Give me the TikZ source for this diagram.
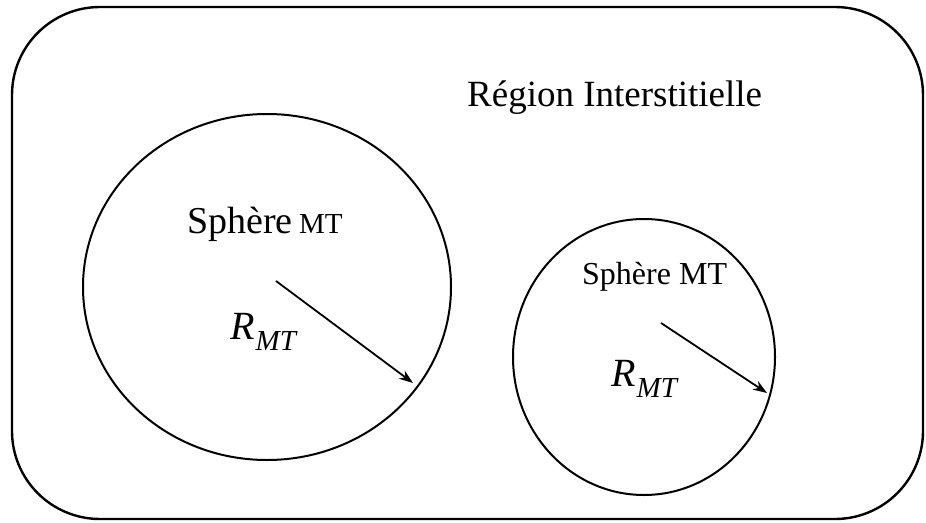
\documentclass[tikz,border=0pt]{standalone}
\usepackage{fontspec}
\setmainfont{Liberation Serif}
\usetikzlibrary{arrows.meta}
\tikzset{
  frame/.style={line width=2.4pt, rounded corners=88pt},
  sphere/.style={line width=2pt},
  radius arrow/.style={line width=1.8pt, -{Stealth[length=14pt,width=10pt]}},
  lbl/.style={inner sep=0pt, anchor=base west},
  radiuslbl/.style={lbl, font=\fontsize{40}{44}\selectfont\itshape}
}
% radius symbol R with subscript MT
\newcommand{\rmtlabel}{R\kern1pt\raisebox{-0.28em}{\fontsize{29}{32}\selectfont MT}}
\begin{document}
\begin{tikzpicture}[x=1pt,y=-1pt]
\useasboundingbox (0,0) rectangle (926,522);
% interstitial region
\draw[frame] (12,7) rectangle (923,519);
\node[lbl, font=\fontsize{37}{40}\selectfont] (region) at (467,106) {Région Interstitielle};
% large muffin-tin sphere
\coordinate (c1) at (267,287);
\draw[sphere] (c1) ellipse [x radius=184, y radius=173];
\node[lbl, font=\fontsize{38}{42}\selectfont] (s1) at (187,233) {Sphère\,{\fontsize{29}{32}\selectfont MT}};
\coordinate (a1) at (276,281);
\coordinate (b1) at (413,383);
\draw[radius arrow] (a1) -- (b1);
\node[radiuslbl] (r1) at (230,339) {\rmtlabel};
% small muffin-tin sphere
\coordinate (c2) at (644,357);
\draw[sphere] (c2) ellipse [x radius=131, y radius=138];
\node[lbl, font=\fontsize{32}{35}\selectfont] (s2) at (582,284) {Sphère MT};
\coordinate (a2) at (661,323);
\coordinate (b2) at (767,393);
\draw[radius arrow] (a2) -- (b2);
\node[radiuslbl] (r2) at (611,386) {\rmtlabel};
\end{tikzpicture}
\end{document}
